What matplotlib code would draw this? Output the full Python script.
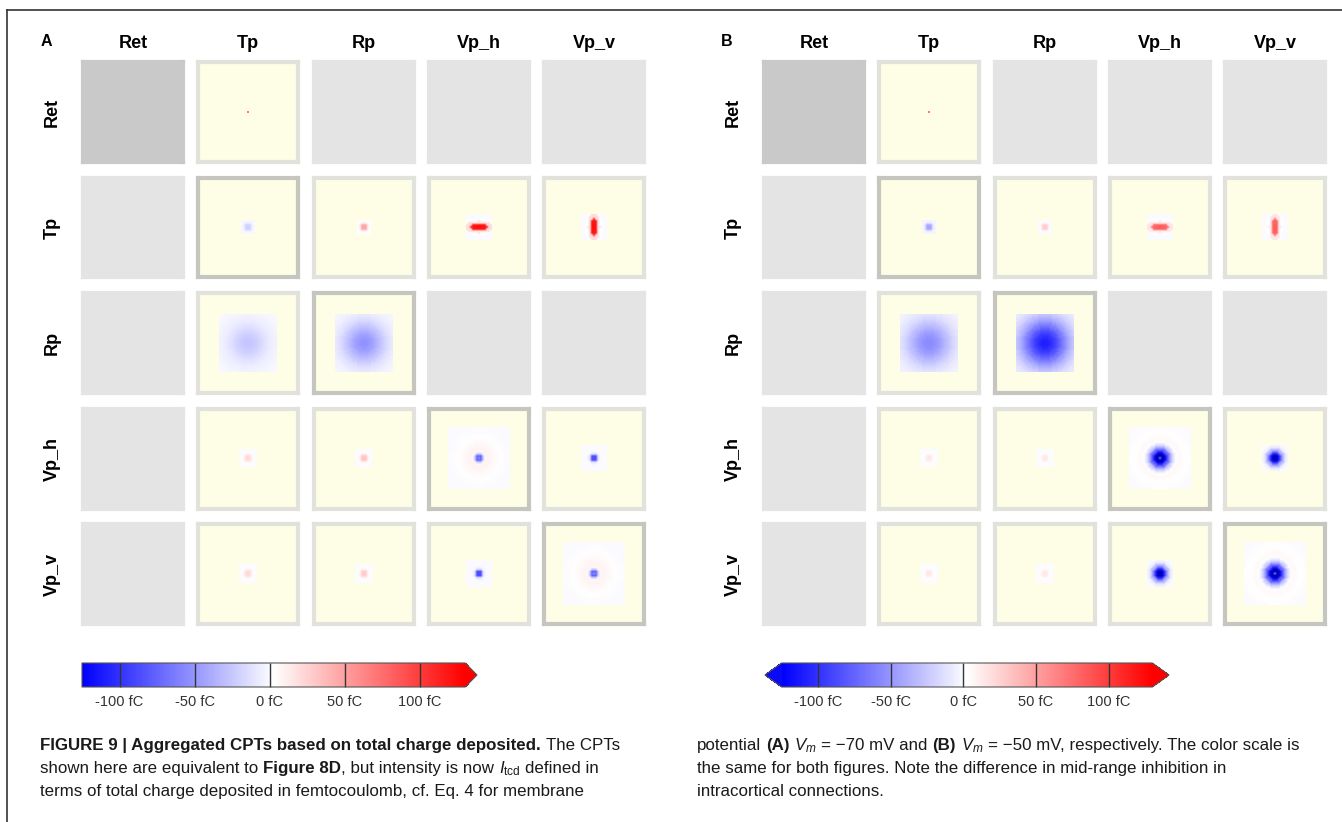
import numpy as np
import matplotlib
matplotlib.use('Agg')
import matplotlib.pyplot as plt
from matplotlib.colors import Normalize
from matplotlib.cm import ScalarMappable
from matplotlib.lines import Line2D

W, H = 1342, 822

POPS = ['Ret', 'Tp', 'Rp', 'Vp_h', 'Vp_v']
CBAR_TICKS = [-100, -50, 0, 50, 100]
CBAR_LABELS = ['-100 fC', '-50 fC', '0 fC', '50 fC', '100 fC']
VMIN, VMAX = -125, 130

# mask half width (grid cells) of each connection (pre, post)
MASK = {
    ('Ret', 'Tp'): 0,
    ('Tp', 'Tp'): 3, ('Tp', 'Rp'): 3, ('Tp', 'Vp_h'): 6, ('Tp', 'Vp_v'): 6,
    ('Rp', 'Tp'): 14, ('Rp', 'Rp'): 14,
    ('Vp_h', 'Tp'): 4, ('Vp_h', 'Rp'): 4, ('Vp_h', 'Vp_h'): 15, ('Vp_h', 'Vp_v'): 6,
    ('Vp_v', 'Tp'): 4, ('Vp_v', 'Rp'): 4, ('Vp_v', 'Vp_h'): 6, ('Vp_v', 'Vp_v'): 15,
}
# elongated kernels (stretch in x, stretch in y)
BAR = {('Tp', 'Vp_h'): (3, 1.2), ('Tp', 'Vp_v'): (1.2, 3)}

# charge (fC) against distance from the centre in grid cells
PROFILE_A = {
    ('Ret', 'Tp'): [70],
    ('Tp', 'Tp'): [-22, -20, -6, -1],
    ('Tp', 'Rp'): [50, 45, 10, 2],
    ('Tp', 'Vp_h'): [125, 120, 20, 3, 0],
    ('Tp', 'Vp_v'): [125, 120, 20, 3, 0],
    ('Rp', 'Tp'): [-26, -26, -25, -24, -22, -20, -18, -16, -13, -11, -9, -7, -6, -5,
                   -4, -3, -2, -2, -1, -1, -1],
    ('Rp', 'Rp'): [-52, -52, -50, -48, -45, -41, -37, -33, -29, -25, -21, -17, -14, -11,
                   -9, -7, -5, -4, -3, -2, -2],
    ('Vp_h', 'Tp'): [22, 20, 8, 3, 1],
    ('Vp_h', 'Rp'): [35, 30, 10, 3, 1],
    ('Vp_h', 'Vp_h'): [-50, -75, -25, 6, 8, 8, 7, 6, 5, 4, 3, 2, 2, 1, 1, 1, 0],
    ('Vp_h', 'Vp_v'): [-90, -85, -15, -2, 0],
    ('Vp_v', 'Tp'): [22, 20, 8, 3, 1],
    ('Vp_v', 'Rp'): [30, 26, 9, 3, 1],
    ('Vp_v', 'Vp_h'): [-90, -85, -15, -2, 0],
    ('Vp_v', 'Vp_v'): [-50, -75, -25, 6, 8, 8, 7, 6, 5, 4, 3, 2, 2, 1, 1, 1, 0],
}
PROFILE_B = {
    ('Ret', 'Tp'): [70],
    ('Tp', 'Tp'): [-45, -40, -10, -2],
    ('Tp', 'Rp'): [30, 26, 6, 1],
    ('Tp', 'Vp_h'): [85, 80, 15, 2, 0],
    ('Tp', 'Vp_v'): [85, 80, 15, 2, 0],
    ('Rp', 'Tp'): [-55, -55, -54, -52, -49, -46, -42, -38, -34, -30, -26, -22, -18, -15,
                   -12, -10, -8, -6, -5, -4, -3],
    ('Rp', 'Rp'): [-110, -109, -107, -103, -98, -92, -85, -78, -70, -62, -54, -46, -39,
                   -33, -27, -22, -18, -14, -11, -9, -7],
    ('Vp_h', 'Tp'): [15, 13, 5, 2, 1],
    ('Vp_h', 'Rp'): [15, 13, 5, 2, 1],
    ('Vp_h', 'Vp_h'): [-60, -170, -150, -110, -75, -45, -22, -8, 2, 5, 5, 4, 3, 3, 2, 2,
                       1, 1, 1, 0],
    ('Vp_h', 'Vp_v'): [-170, -150, -110, -70, -35, -12, -3, 0],
    ('Vp_v', 'Tp'): [15, 13, 5, 2, 1],
    ('Vp_v', 'Rp'): [15, 13, 5, 2, 1],
    ('Vp_v', 'Vp_h'): [-170, -150, -110, -70, -35, -12, -3, 0],
    ('Vp_v', 'Vp_v'): [-60, -170, -150, -110, -75, -45, -22, -8, 2, 5, 5, 4, 3, 3, 2, 2,
                       1, 1, 1, 0],
}

plt.rcParams['font.family'] = ['Liberation Sans', 'DejaVu Sans']
plt.rcParams['mathtext.fontset'] = 'custom'
plt.rcParams['mathtext.rm'] = 'Liberation Sans'
plt.rcParams['mathtext.it'] = 'Liberation Sans:italic'
plt.rcParams['mathtext.bf'] = 'Liberation Sans:bold'

fig = plt.figure(figsize=(W / 100, H / 100), dpi=100)
cmap = plt.get_cmap('bwr').copy()
cmap.set_under('#0000c0')
cmap_bar = plt.get_cmap('bwr').copy()
cmap_bar.set_under('#0a0af5')
norm = Normalize(VMIN, VMAX)
HALF = 25  # tile half width in grid cells


def box(x, y, w, h):
    return [x / W, 1 - (y + h) / H, w / W, h / H]


def tile(x, y, pre, post, profiles):
    ax = fig.add_axes(box(x, y, 100, 100))
    ax.set_xticks([])
    ax.set_yticks([])
    if (pre, post) in profiles:
        face = '#fefee6'
        edge = '#c6c6c0' if pre == post else '#e2e2dc'
        R = MASK[(pre, post)]
        sx, sy = BAR.get((pre, post), (1, 1))
        prof = np.asarray(profiles[(pre, post)], dtype=float)
        yy, xx = np.mgrid[-R:R + 1, -R:R + 1]
        d = np.rint(np.hypot(xx / sx, yy / sy)).astype(int)
        img = prof[np.minimum(d, len(prof) - 1)]
        ax.imshow(img, cmap=cmap, norm=norm, extent=[-R - .5, R + .5, -R - .5, R + .5],
                  interpolation='bilinear', aspect='auto', origin='lower')
    else:
        face = '#c9c9c9' if pre == post else '#e4e4e4'
        edge = face
    ax.set_facecolor(face)
    for s in ax.spines.values():
        s.set_color(edge)
        s.set_linewidth(3.0)
    ax.set_xlim(-HALF, HALF)
    ax.set_ylim(-HALF, HALF)


def panel(x0, letter, profiles, cbar_x, cbar_w, extend, efrac):
    pitch = 115.3
    fig.text((x0 - 37) / W, 1 - 41 / H, letter, fontsize=11.5, fontweight='bold',
             ha='center', va='center')
    for j, post in enumerate(POPS):
        fig.text((x0 + 50 + j * pitch) / W, 1 - 43 / H, post, fontsize=13,
                 fontweight='bold', ha='center', va='center')
    for i, pre in enumerate(POPS):
        y = 62 + i * 115.5
        fig.text((x0 - 31) / W, 1 - (y + 50) / H, pre, fontsize=13, fontweight='bold',
                 ha='center', va='center', rotation=90)
        for j, post in enumerate(POPS):
            tile(x0 + j * pitch, y, pre, post, profiles)

    cax = fig.add_axes(box(cbar_x, 663, cbar_w, 24))
    cb = fig.colorbar(ScalarMappable(norm=norm, cmap=cmap_bar), cax=cax,
                      orientation='horizontal', extend=extend, extendfrac=efrac)
    cb.set_ticks(CBAR_TICKS)
    cb.set_ticklabels(CBAR_LABELS)
    cb.ax.tick_params(length=0, pad=6, labelsize=10.5, labelcolor='#333333')
    cb.add_lines(CBAR_TICKS, ['#333333'] * 5, [1.0] * 5)
    cb.outline.set_edgecolor('#555555')
    cb.outline.set_linewidth(0.8)


panel(83, 'A', PROFILE_A, 82, 395, 'max', 0.031)
panel(764, 'B', PROFILE_B, 765, 404, 'both', 0.045)

# frame round the figure
fig.add_artist(Line2D([7 / W, 1], [1 - 10 / H, 1 - 10 / H], transform=fig.transFigure,
                      color='#333333', lw=1.2))
fig.add_artist(Line2D([7 / W, 7 / W], [0, 1 - 10 / H], transform=fig.transFigure,
                      color='#333333', lw=1.2))

renderer = fig.canvas.get_renderer()
CAP = 12.2


def rich_line(x, y, pieces):
    space = fig.text(0, 0, 'x x', fontsize=CAP)
    nosp = fig.text(0, 0, 'xx', fontsize=CAP)
    sw = space.get_window_extent(renderer).width - nosp.get_window_extent(renderer).width
    space.remove()
    nosp.remove()
    for s, w in pieces:
        if s == ' ':
            x += sw
            continue
        t = fig.text(x / W, 1 - y / H, s, fontsize=CAP, fontweight=w,
                     ha='left', va='baseline', color='#1a1a1a')
        x += t.get_window_extent(renderer).width


rich_line(40, 750, [('FIGURE 9 | Aggregated CPTs based on total charge deposited.', 'bold'),
                    (' ', ''), ('The CPTs', 'normal')])
rich_line(40, 773, [('shown here are equivalent to', 'normal'), (' ', ''),
                    ('Figure 8D', 'bold'), (', but intensity is now', 'normal'), (' ', ''),
                    (r'$I_{\rm tcd}$', 'normal'), (' ', ''), ('defined in', 'normal')])
rich_line(40, 796, [('terms of total charge deposited in femtocoulomb, cf. Eq. 4 for membrane',
                     'normal')])
rich_line(697, 750, [('potential', 'normal'), (' ', ''), ('(A)', 'bold'), (' ', ''),
                     (r'$V_m$', 'normal'), (' ', ''), ('= \u221270 mV and', 'normal'),
                     (' ', ''), ('(B)', 'bold'), (' ', ''), (r'$V_m$', 'normal'), (' ', ''),
                     ('= \u221250 mV, respectively. The color scale is', 'normal')])
rich_line(697, 773, [('the same for both figures. Note the difference in mid-range inhibition in',
                      'normal')])
rich_line(697, 796, [('intracortical connections.', 'normal')])

fig.savefig('out.png', dpi=100)
